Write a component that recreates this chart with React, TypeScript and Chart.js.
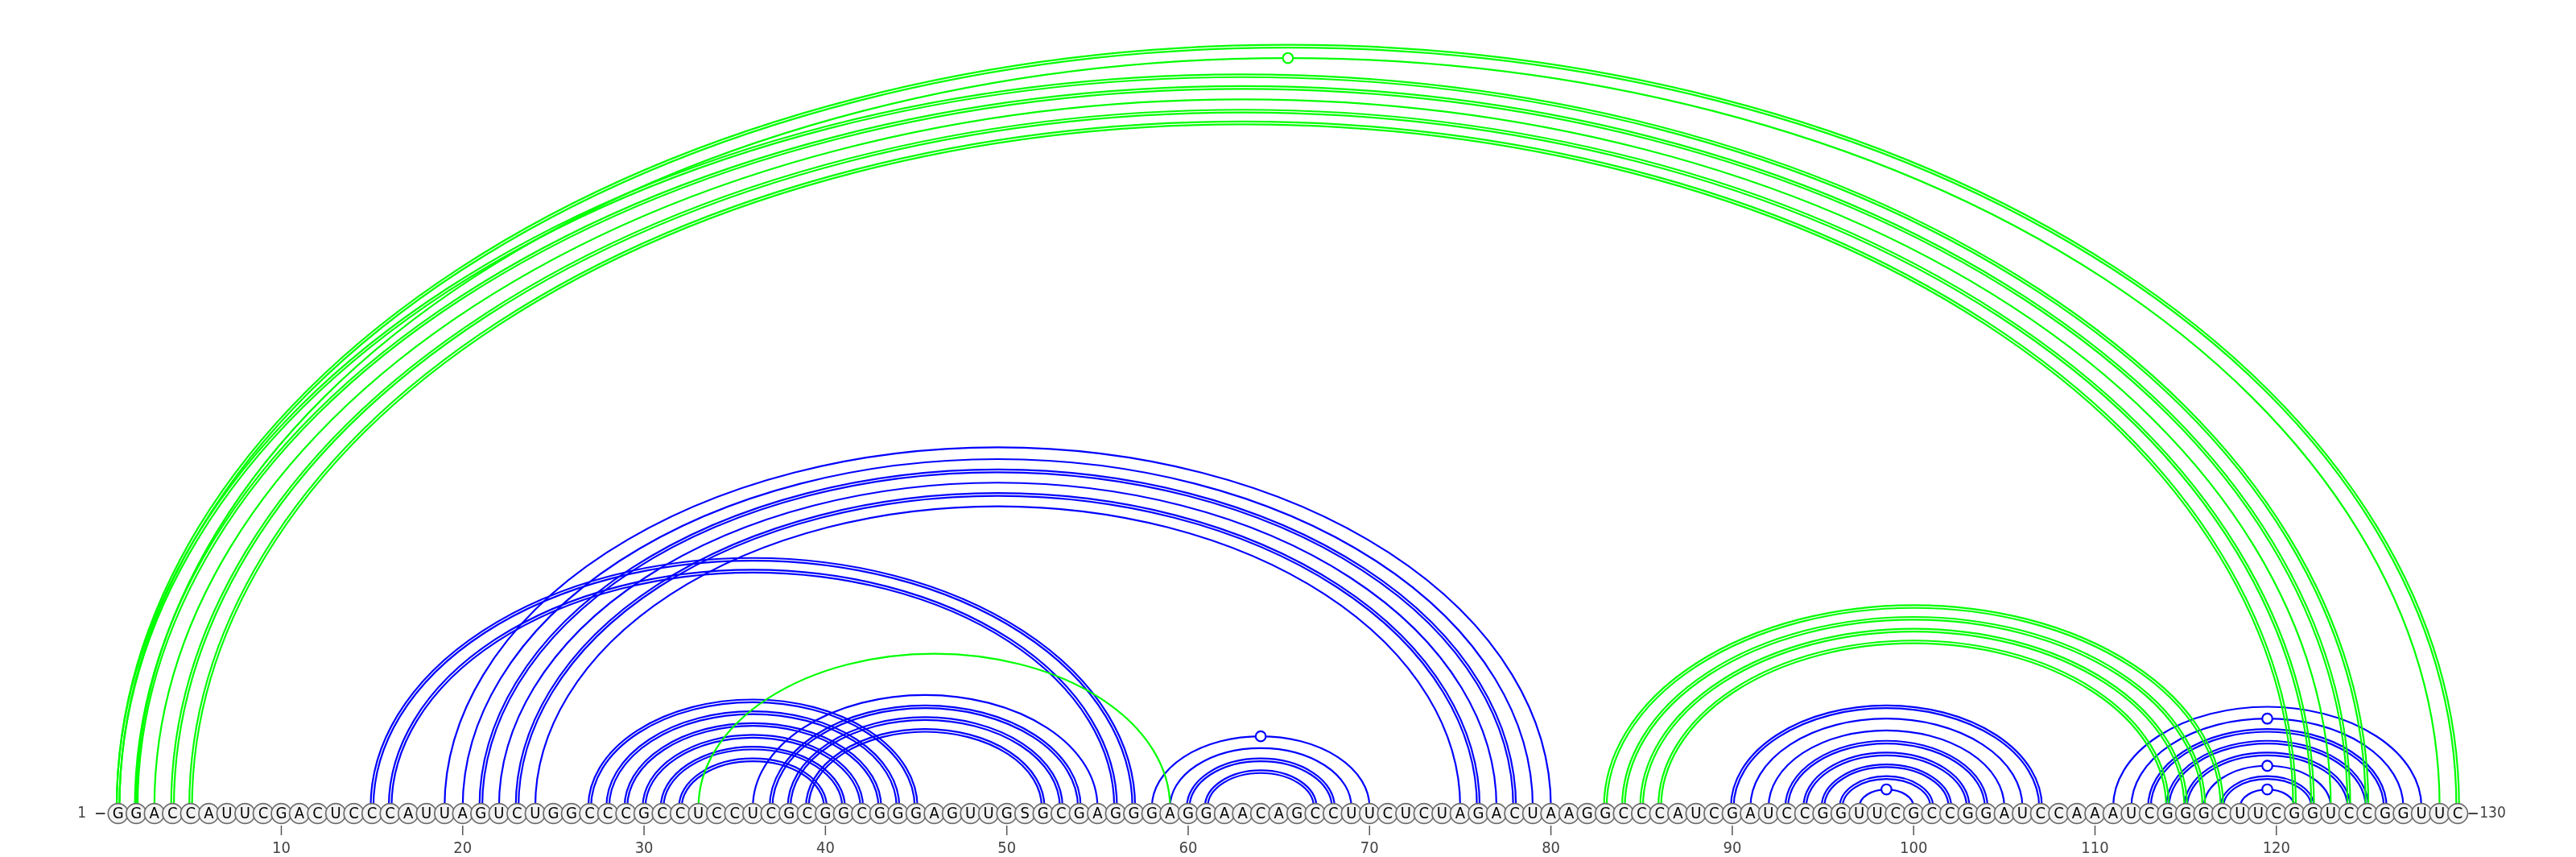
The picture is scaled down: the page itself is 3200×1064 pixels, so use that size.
import React, { useEffect, useRef } from "react";
import { Chart, registerables, ChartConfiguration, Plugin } from "chart.js";

Chart.register(...registerables);

// sequence, 10 nt per chunk
const SEQUENCE = [
  "GGACCAUUCG", "ACUCCCAUUA", "GUCUGGCCCG", "CCUCCUCGCG", "GCGGGAGUUG",
  "SGCGAGGGAG", "GAACAGCCUU", "CUCUAGACUA", "AGGCCCAUCG", "AUCCGGUUCG",
  "CCGGAUCCAA", "AUCGGGCUUC", "GGUCCGGUUC",
].join("").split("");

const POSITIONS = SEQUENCE.map((_, i) => i + 1);

const BLUE_PAIRS: [number, number][] = [
  [15, 57], [16, 56],
  [19, 80], [20, 79], [21, 78], [22, 77], [23, 76], [24, 75],
  [27, 45], [28, 44], [29, 43], [30, 42], [31, 41], [32, 40],
  [36, 55], [37, 54], [38, 53], [39, 52],
  [58, 70], [59, 69], [60, 68], [61, 67],
  [90, 107], [91, 106], [92, 105], [93, 104], [94, 103], [95, 102], [96, 101], [97, 100],
  [111, 128], [112, 127], [113, 126], [114, 125], [115, 124], [116, 123], [117, 122], [118, 121],
];

const GREEN_PAIRS: [number, number][] = [
  [1, 130], [1, 125], [2, 129], [2, 124], [3, 123], [4, 122], [5, 121],
  [33, 59],
  [83, 117], [84, 116], [85, 115], [86, 114],
];

const INDEX_TICKS = [10, 20, 30, 40, 50, 60, 70, 80, 90, 100, 110, 120];

const BLUE = "#0000ff";
const GREEN = "#00ff00";
const ARC_RATIO = 0.65;
const ARC_BASE = 8;

function pairKind(i: number, j: number): "gc" | "gu" | "au" {
  const s = SEQUENCE[i - 1] + SEQUENCE[j - 1];
  if (s === "GC" || s === "CG") return "gc";
  if (s === "GU" || s === "UG") return "gu";
  return "au";
}

const arcPlugin: Plugin<"scatter"> = {
  id: "arcs",
  beforeDatasetsDraw(chart) {
    const { ctx } = chart;
    const xs = chart.scales.x;
    const ys = chart.scales.y;
    const cy = ys.getPixelForValue(ARC_BASE);

    const drawSet = (pairs: [number, number][], color: string) => {
      pairs.forEach(([i, j]) => {
        const x1 = xs.getPixelForValue(i);
        const x2 = xs.getPixelForValue(j);
        const cx = (x1 + x2) / 2;
        const rx = (x2 - x1) / 2;
        const ry = rx * ARC_RATIO;
        const kind = pairKind(i, j);
        ctx.save();
        ctx.strokeStyle = color;
        if (kind === "gc") {
          // G-C pairs: double line
          ctx.lineWidth = 2.2;
          [1.7, -1.7].forEach((d) => {
            ctx.beginPath();
            ctx.ellipse(cx, cy, rx + d, ry + d, 0, Math.PI, 2 * Math.PI);
            ctx.stroke();
          });
        } else {
          ctx.lineWidth = 2.2;
          ctx.beginPath();
          ctx.ellipse(cx, cy, rx, ry, 0, Math.PI, 2 * Math.PI);
          ctx.stroke();
          if (kind === "gu") {
            // G-U wobble: small ring on top
            ctx.beginPath();
            ctx.arc(cx, cy - ry, 6.3, 0, 2 * Math.PI);
            ctx.fillStyle = "#ffffff";
            ctx.fill();
            ctx.stroke();
          }
        }
        ctx.restore();
      });
    };

    drawSet(BLUE_PAIRS, BLUE);
    drawSet(GREEN_PAIRS, GREEN);
  },
};

const labelPlugin: Plugin<"scatter"> = {
  id: "labels",
  afterDatasetsDraw(chart) {
    const { ctx } = chart;
    const xs = chart.scales.x;
    const ys = chart.scales.y;
    const rowY = ys.getPixelForValue(0);

    ctx.save();
    ctx.fillStyle = "#000";
    ctx.font = '20px "DejaVu Sans Condensed", "Liberation Sans Narrow", sans-serif';
    ctx.textAlign = "center";
    ctx.textBaseline = "middle";
    SEQUENCE.forEach((ch, k) => {
      ctx.fillText(ch, xs.getPixelForValue(k + 1), rowY + 1);
    });

    // index ticks
    ctx.strokeStyle = "#555";
    ctx.lineWidth = 1.5;
    ctx.fillStyle = "#444";
    ctx.font = '20px "DejaVu Sans Condensed", "DejaVu Sans", sans-serif';
    INDEX_TICKS.forEach((t) => {
      const x = xs.getPixelForValue(t);
      ctx.beginPath();
      ctx.moveTo(x, ys.getPixelForValue(-15));
      ctx.lineTo(x, ys.getPixelForValue(-27));
      ctx.stroke();
      ctx.fillText(String(t), x, ys.getPixelForValue(-44));
    });

    // ends
    const first = POSITIONS[0];
    const last = POSITIONS[POSITIONS.length - 1];
    ctx.lineWidth = 1.8;
    ctx.strokeStyle = "#444";
    ctx.beginPath();
    ctx.moveTo(xs.getPixelForValue(first - 1.23), rowY);
    ctx.lineTo(xs.getPixelForValue(first - 0.72), rowY);
    ctx.moveTo(xs.getPixelForValue(last + 0.6), rowY);
    ctx.lineTo(xs.getPixelForValue(last + 1.1), rowY);
    ctx.stroke();
    ctx.font = '19px "DejaVu Sans Condensed", "DejaVu Sans", sans-serif';
    ctx.fillText(String(first), xs.getPixelForValue(first - 2.0), rowY);
    ctx.textAlign = "left";
    ctx.fillText(String(last), xs.getPixelForValue(last + 1.2), rowY);
    ctx.restore();
  },
};

export default function App() {
  const canvasRef = useRef<HTMLCanvasElement | null>(null);

  useEffect(() => {
    if (!canvasRef.current) return;
    const config: ChartConfiguration<"scatter"> = {
      type: "scatter",
      data: {
        datasets: [
          {
            data: POSITIONS.map((p) => ({ x: p, y: 0 })),
            pointRadius: 12.4,
            pointHoverRadius: 12.4,
            pointBackgroundColor: "#f2f2f2",
            pointBorderColor: "#6b6b6b",
            pointBorderWidth: 1.7,
            showLine: false,
            clip: false,
          },
        ],
      },
      options: {
        animation: false,
        responsive: true,
        maintainAspectRatio: false,
        layout: { padding: 0, autoPadding: false },
        plugins: {
          legend: { display: false },
          tooltip: { enabled: false },
        },
        events: [],
        scales: {
          x: { type: "linear", min: -5.511, max: 136.52, display: false },
          y: { type: "linear", min: -54, max: 1010, display: false },
        },
      },
      plugins: [arcPlugin, labelPlugin],
    };
    const chart = new Chart(canvasRef.current, config);
    return () => chart.destroy();
  }, []);

  return (
    <div
      style={{
        position: "fixed",
        left: 0,
        top: 0,
        width: 3200,
        height: 1064,
        background: "#fff",
      }}
    >
      <canvas ref={canvasRef} />
    </div>
  );
}
